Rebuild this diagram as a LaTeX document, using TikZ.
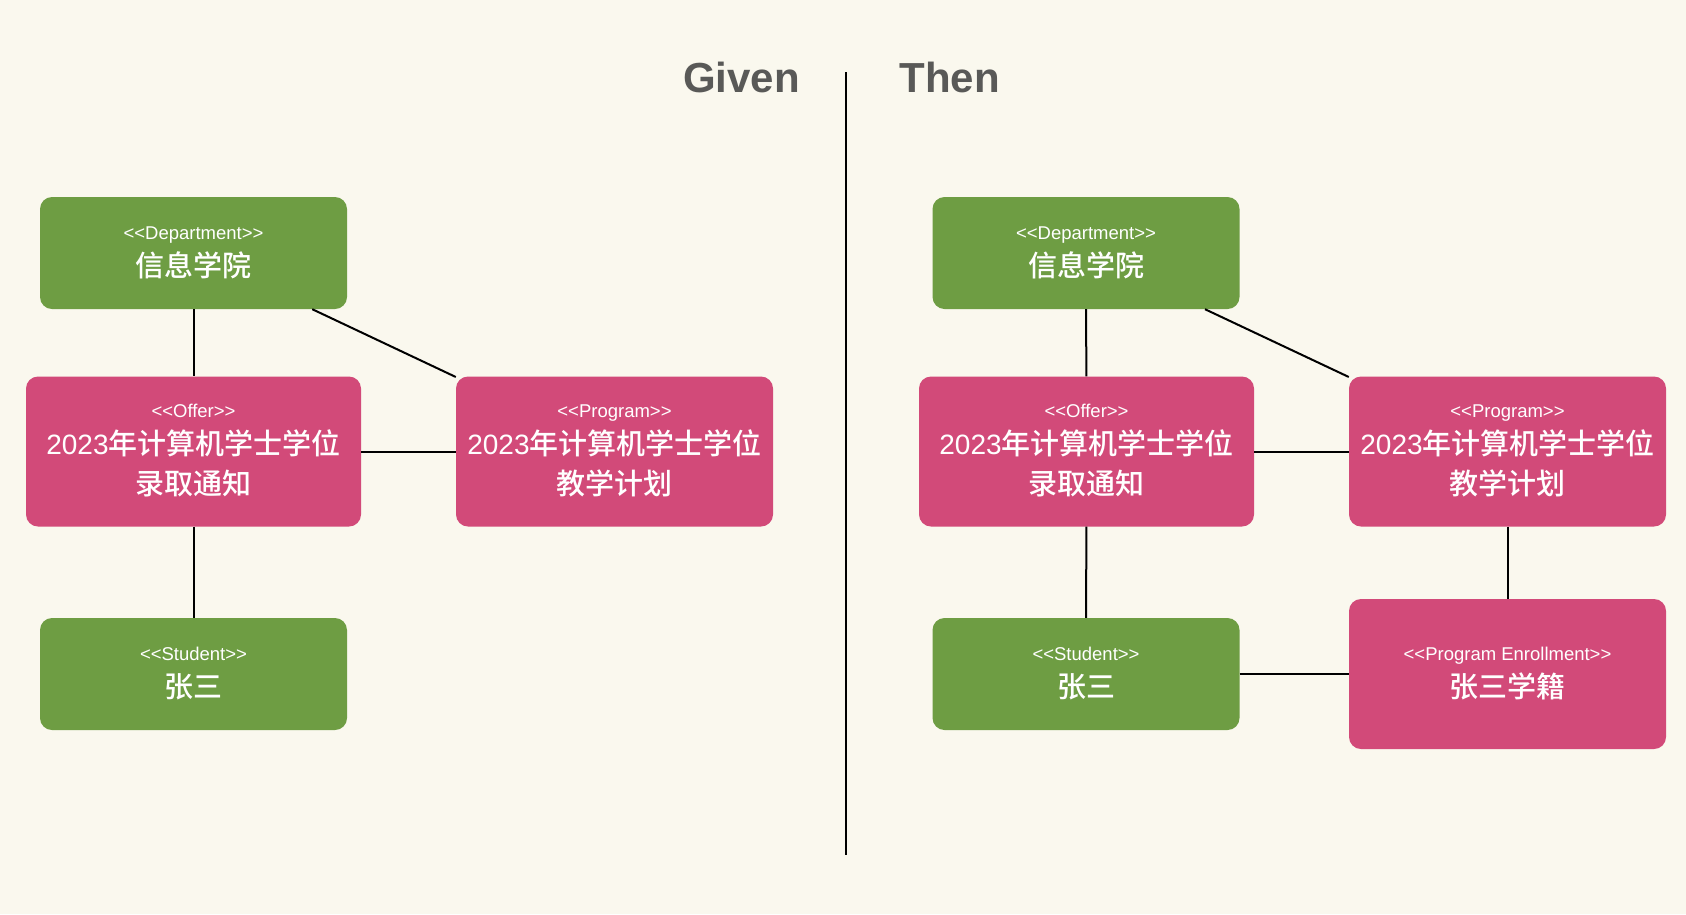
\documentclass[tikz,border=0pt]{standalone}
\usepackage{fontspec}
\newfontfamily\hel{Liberation Sans}
\newfontfamily\cjk{Noto Sans CJK SC}[UprightFont=* Medium]
\definecolor{bg}{HTML}{FAF8EE}
\definecolor{dgreen}{HTML}{6E9D43}
\definecolor{dpink}{HTML}{D24A79}
\definecolor{ttl}{HTML}{595957}
\begin{document}
\begin{tikzpicture}[x=1pt,y=-1pt,
  box/.style={rounded corners=12pt, inner sep=0pt, draw=none},
  gbox/.style={box, fill=dgreen, minimum width=307pt, minimum height=112pt},
  pbox/.style={box, fill=dpink, minimum width=317pt, minimum height=150pt},
  obox/.style={box, fill=dpink, minimum width=335pt, minimum height=150pt},
  stereo/.style={anchor=base, text=white, inner sep=0pt, font=\hel\fontsize{18.5}{20}\selectfont},
  cjkt/.style={anchor=base, text=white, inner sep=0pt, font=\fontsize{29}{31}\selectfont\cjk},
  ttlt/.style={anchor=base, text=ttl, inner sep=0pt, font=\hel\fontsize{42}{44}\selectfont\bfseries},
  link/.style={draw=black, line width=2pt}]
\fill[bg] (0,0) rectangle (1686,914);
\useasboundingbox (0,0) rectangle (1686,914);

% titles and divider
\node[ttlt] (given) at (741.5,92) {Given};
\node[ttlt] (then) at (949.5,92) {Then};
\coordinate (divtop) at (846,72);
\coordinate (divbot) at (846,855);
\draw[line width=2pt] (divtop) -- (divbot);

% ---------- Given ----------
\node[gbox] (deptL) at (193.5,253) {};
\node[obox] (offerL) at (193.5,451.5) {};
\node[pbox] (progL) at (614.5,451.5) {};
\node[gbox] (studL) at (193.5,674) {};

\draw[link] (deptL) -- (offerL);
\draw[link] (deptL) -- (progL);
\draw[link] (offerL) -- (progL);
\draw[link] (offerL) -- (studL);

\node[stereo] (deptLs) at (193.5,239) {<<Department>>};
\node[cjkt] (deptLn) at (193.5,276) {信息学院};
\node[stereo] (offerLs) at (193.5,417) {<<Offer>>};
\node[cjkt] (offerLn1) at (193.5,454) {{\hel\fontsize{28}{30}\selectfont 2023}年计算机学士学位};
\node[cjkt] (offerLn2) at (193.5,494.5) {录取通知};
\node[stereo] (progLs) at (614.5,417) {<<Program>>};
\node[cjkt] (progLn1) at (614.5,454) {{\hel\fontsize{28}{30}\selectfont 2023}年计算机学士学位};
\node[cjkt] (progLn2) at (614.5,494.5) {教学计划};
\node[stereo] (studLs) at (193.5,660) {<<Student>>};
\node[cjkt] (studLn) at (193.5,697) {张三};

% ---------- Then ----------
\node[gbox] (deptR) at (1086,253) {};
\node[obox] (offerR) at (1086.5,451.5) {};
\node[pbox] (progR) at (1507.5,451.5) {};
\node[gbox] (studR) at (1086,674) {};
\node[pbox] (enrR) at (1507.5,674) {};

\draw[link] (deptR) -- (offerR);
\draw[link] (deptR) -- (progR);
\draw[link] (offerR) -- (progR);
\draw[link] (offerR) -- (studR);
\draw[link] (progR) -- (enrR);
\draw[link] (studR) -- (enrR);

\node[stereo] (deptRs) at (1086,239) {<<Department>>};
\node[cjkt] (deptRn) at (1086,276) {信息学院};
\node[stereo] (offerRs) at (1086.5,417) {<<Offer>>};
\node[cjkt] (offerRn1) at (1086.5,454) {{\hel\fontsize{28}{30}\selectfont 2023}年计算机学士学位};
\node[cjkt] (offerRn2) at (1086.5,494.5) {录取通知};
\node[stereo] (progRs) at (1507.5,417) {<<Program>>};
\node[cjkt] (progRn1) at (1507.5,454) {{\hel\fontsize{28}{30}\selectfont 2023}年计算机学士学位};
\node[cjkt] (progRn2) at (1507.5,494.5) {教学计划};
\node[stereo] (studRs) at (1086,660) {<<Student>>};
\node[cjkt] (studRn) at (1086,697) {张三};
\node[stereo] (enrRs) at (1507.5,660) {<<Program Enrollment>>};
\node[cjkt] (enrRn) at (1507.5,697) {张三学籍};
\end{tikzpicture}
\end{document}
